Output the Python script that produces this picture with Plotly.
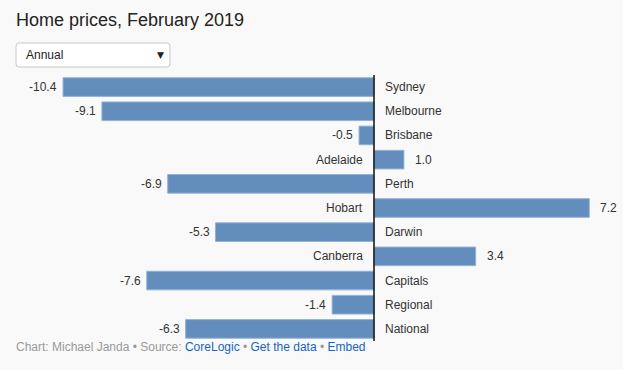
import plotly.graph_objects as go

categories = ["Sydney", "Melbourne", "Brisbane", "Adelaide", "Perth", "Hobart",
              "Darwin", "Canberra", "Capitals", "Regional", "National"]
values = [-10.4, -9.1, -0.5, 1.0, -6.9, 7.2, -5.3, 3.4, -7.6, -1.4, -6.3]
value_labels = ["-10.4", "-9.1", "-0.5", "1.0", "-6.9", "7.2", "-5.3", "3.4", "-7.6", "-1.4", "-6.3"]

W, H = 623, 370
MT, MB = 75, 29
zero_px = 374
px_per_unit = 29.9
xr = [-zero_px / px_per_unit, (W - zero_px) / px_per_unit]

FONT = "Liberation Sans, Arial, sans-serif"
idx = list(range(len(categories)))


def py(p):
    # pixel y from top -> paper y (paper is the plot area)
    top, bot = MT, H - MB
    return (bot - p) / (bot - top)


def px(p):
    return p / W


fig = go.Figure()
fig.add_trace(go.Bar(
    x=values, y=idx, orientation="h",
    marker=dict(color="#628dbd", line=dict(color="#93b2d6", width=1)),
    width=0.77, hoverinfo="skip",
))

annotations = []
for i, (c, v, lab) in enumerate(zip(categories, values, value_labels)):
    if v < 0:
        annotations.append(dict(x=0, y=i, text=c, xanchor="left", xshift=9,
                                showarrow=False, font=dict(size=12, color="#333", family=FONT)))
        annotations.append(dict(x=v, y=i, text=lab, xanchor="right", xshift=-4,
                                showarrow=False, font=dict(size=12, color="#333", family=FONT)))
    else:
        annotations.append(dict(x=0, y=i, text=c, xanchor="right", xshift=-9,
                                showarrow=False, font=dict(size=12, color="#333", family=FONT)))
        annotations.append(dict(x=v, y=i, text=lab, xanchor="left", xshift=9,
                                showarrow=False, font=dict(size=12, color="#333", family=FONT)))

# title
annotations.append(dict(xref="paper", yref="paper", x=px(14), y=py(20), text="Home prices, February 2019",
                        xanchor="left", yanchor="middle", showarrow=False,
                        font=dict(size=18, color="#222", family=FONT)))
# dropdown text
annotations.append(dict(xref="paper", yref="paper", x=px(24), y=py(55), text="Annual",
                        xanchor="left", yanchor="middle", showarrow=False,
                        font=dict(size=12, color="#222", family=FONT)))
annotations.append(dict(xref="paper", yref="paper", x=px(166), y=py(55), text="▼",
                        xanchor="right", yanchor="middle", showarrow=False,
                        font=dict(size=9, color="#222", family="DejaVu Sans")))
# footer
annotations.append(dict(xref="paper", yref="paper", x=px(14), y=py(347),
                        text=("<span style='color:#999'>Chart: Michael Janda • Source: </span>"
                              "<span style='color:#1565c0'>CoreLogic</span>"
                              "<span style='color:#999'> • </span>"
                              "<span style='color:#1565c0'>Get the data</span>"
                              "<span style='color:#999'> • </span>"
                              "<span style='color:#1565c0'>Embed</span>"),
                        xanchor="left", yanchor="middle", showarrow=False,
                        font=dict(size=12, color="#999", family=FONT)))

# rounded dropdown box
x0, x1 = px(16), px(170)
y0, y1 = py(67), py(43)
rx, ry = 3 / W, 3 / (H - MT - MB)
path = (f"M {x0+rx},{y1} L {x1-rx},{y1} Q {x1},{y1} {x1},{y1-ry} "
        f"L {x1},{y0+ry} Q {x1},{y0} {x1-rx},{y0} L {x0+rx},{y0} "
        f"Q {x0},{y0} {x0},{y0+ry} L {x0},{y1-ry} Q {x0},{y1} {x0+rx},{y1} Z")

shapes = [
    dict(type="line", xref="x", yref="paper", x0=0, x1=0, y0=0, y1=1,
         line=dict(color="#111", width=1.5)),
    dict(type="path", xref="paper", yref="paper", path=path,
         fillcolor="#ffffff", line=dict(color="#c8c8c8", width=1)),
]

fig.update_layout(
    width=W, height=H,
    margin=dict(l=0, r=0, t=MT, b=MB),
    paper_bgcolor="#f9f9f9", plot_bgcolor="#f9f9f9",
    showlegend=False,
    xaxis=dict(range=xr, visible=False, fixedrange=True),
    yaxis=dict(range=[10.5, -0.5], visible=False, fixedrange=True),
    annotations=annotations, shapes=shapes,
    font=dict(family=FONT),
)

fig.write_html("out.html", config={"displayModeBar": False},
               post_script="document.body.style.margin='0';document.body.style.background='#f9f9f9';")
